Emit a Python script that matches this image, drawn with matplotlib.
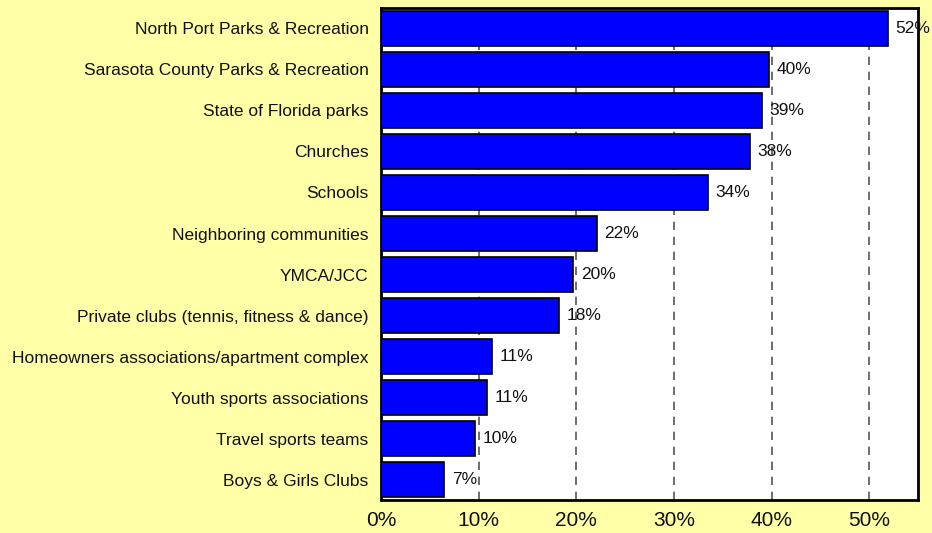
import matplotlib.pyplot as plt

categories = [
    "North Port Parks & Recreation",
    "Sarasota County Parks & Recreation",
    "State of Florida parks",
    "Churches",
    "Schools",
    "Neighboring communities",
    "YMCA/JCC",
    "Private clubs (tennis, fitness & dance)",
    "Homeowners associations/apartment complex",
    "Youth sports associations",
    "Travel sports teams",
    "Boys & Girls Clubs",
]
values = [51.9, 39.7, 39.0, 37.8, 33.5, 22.1, 19.7, 18.2, 11.4, 10.9, 9.6, 6.5]
labels = ["52%", "40%", "39%", "38%", "34%", "22%", "20%", "18%", "11%", "11%", "10%", "7%"]
xticks = [0, 10, 20, 30, 40, 50]

plt.rcParams["font.family"] = ["Liberation Sans", "DejaVu Sans"]

fig = plt.figure(figsize=(9.32, 5.33), dpi=100, facecolor="#FFFFA8")
ax = fig.add_axes([0.4088, 0.0619, 0.5762, 0.9231])
ax.set_facecolor("white")

y = list(range(len(categories)))
ax.barh(y, values, height=0.86, color="#0000FF", edgecolor="black", linewidth=1.2, zorder=3)

for yi, v, lab in zip(y, values, labels):
    ax.annotate(lab, (v, yi), xytext=(5.5, 0), textcoords="offset points",
                va="center", ha="left", fontsize=12.5, color="#111111", zorder=4)

ax.set_xlim(0, 55)
ax.set_ylim(len(categories) - 0.5, -0.5)
ax.set_yticks(y)
ax.set_yticklabels(categories, fontsize=12.5, color="#111111")
ax.set_xticks(xticks)
ax.set_xticklabels([f"{t}%" for t in xticks], fontsize=15, color="#111111")
ax.tick_params(length=0)
ax.tick_params(axis="x", pad=8)
ax.tick_params(axis="y", pad=9)

for t in xticks[1:]:
    ax.axvline(t, color="#555555", linestyle=(0, (5, 4)), linewidth=1.2, zorder=1)

for s in ax.spines.values():
    s.set_linewidth(2)
    s.set_color("black")

fig.savefig("out.png", dpi=100, facecolor=fig.get_facecolor())
